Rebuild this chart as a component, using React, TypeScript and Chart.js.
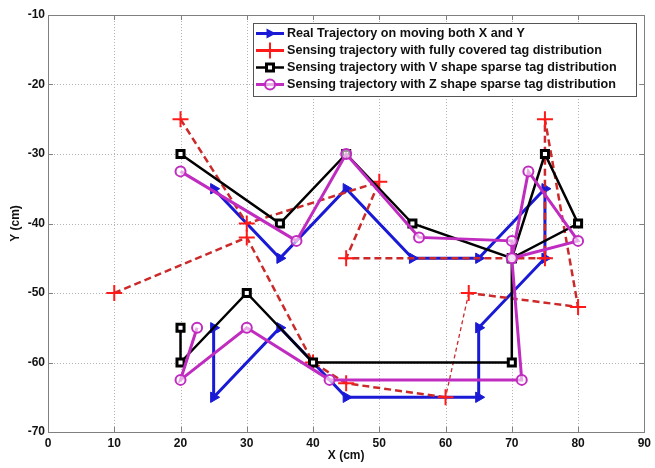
import React, { useEffect, useRef } from "react";
import { Chart, registerables } from "chart.js";

Chart.register(...registerables);

// ---------- data ----------
const seriesLabels = [
  "Real Trajectory on moving both X and Y",
  "Sensing trajectory with fully covered tag distribution",
  "Sensing trajectory with V shape sparse tag distribution",
  "Sensing trajectory with Z shape sparse tag distribution",
];

const realX = [25, 35, 45, 55, 65, 75, 75, 65, 65, 45, 35, 25, 25];
const realY = [-35, -45, -35, -45, -45, -35, -45, -55, -65, -65, -55, -65, -55];

const fullX = [20, 30, 50, 45, 75, 75, 80, 63.5, 60, 45, 40, 30, 10];
const fullY = [-25, -40, -34, -45, -45, -25, -52, -50, -65, -63, -60, -42, -50];

const vX = [20, 35, 45, 55, 70, 75, 80, 70, 70, 40, 30, 20, 20];
const vY = [-30, -40, -30, -40, -45, -30, -40, -45, -60, -60, -50, -60, -55];

const zX = [20, 37.5, 45, 56, 70, 70, 72.5, 80, 70, 71.5, 42.5, 30, 20, 22.5];
const zY = [-32.5, -42.5, -30, -42, -42.5, -45, -32.5, -42.5, -45, -62.5, -62.5, -55, -62.5, -55];

const xTicks = [0, 10, 20, 30, 40, 50, 60, 70, 80, 90];
const yTicks = [-70, -60, -50, -40, -30, -20, -10];

const xTitle = "X (cm)";
const yTitle = "Y (cm)";

// ---------- styles ----------
const BLUE = "#1a1ad6";
const RED_LINE = "#cc2a2a";
const RED_MARK = "#ff1a1a";
const BLACK = "#000000";
const MAGENTA = "#c02cc0";
const FONT = "'Liberation Sans', Arial, Helvetica, sans-serif";

function toPts(xs: number[], ys: number[]) {
  return xs.map((x, i) => ({ x, y: ys[i] }));
}

function drawMarker(ctx: CanvasRenderingContext2D, kind: number, x: number, y: number) {
  ctx.save();
  ctx.setLineDash([]);
  if (kind === 0) {
    ctx.fillStyle = BLUE;
    ctx.beginPath();
    ctx.moveTo(x + 6, y);
    ctx.lineTo(x - 3.5, y - 5);
    ctx.lineTo(x - 3.5, y + 5);
    ctx.closePath();
    ctx.fill();
  } else if (kind === 1) {
    ctx.strokeStyle = RED_MARK;
    ctx.lineWidth = 2;
    ctx.beginPath();
    ctx.moveTo(x - 8, y);
    ctx.lineTo(x + 8, y);
    ctx.moveTo(x, y - 8);
    ctx.lineTo(x, y + 8);
    ctx.stroke();
  } else if (kind === 2) {
    ctx.fillStyle = "#fff";
    ctx.strokeStyle = BLACK;
    ctx.lineWidth = 3;
    ctx.beginPath();
    ctx.rect(x - 3.5, y - 3.5, 7, 7);
    ctx.fill();
    ctx.stroke();
  } else {
    ctx.strokeStyle = MAGENTA;
    ctx.lineWidth = 2;
    ctx.fillStyle = "rgba(255,255,255,0.6)";
    ctx.beginPath();
    ctx.arc(x, y, 5, 0, Math.PI * 2);
    ctx.fill();
    ctx.stroke();
  }
  ctx.restore();
}

export default function App() {
  const ref = useRef<HTMLCanvasElement>(null);

  useEffect(() => {
    const canvas = ref.current;
    if (!canvas) return;

    const framePlugin = {
      id: "matlabFrame",
      beforeDatasetsDraw(chart: any) {
        const { ctx, chartArea: a, scales } = chart;
        ctx.save();
        ctx.strokeStyle = "#b4b4b4";
        ctx.lineWidth = 1;
        ctx.setLineDash([1, 2]);
        for (const v of xTicks) {
          const px = Math.round(scales.x.getPixelForValue(v)) + 0.5;
          if (px <= a.left + 1 || px >= a.right - 1) continue;
          ctx.beginPath();
          ctx.moveTo(px, a.top);
          ctx.lineTo(px, a.bottom);
          ctx.stroke();
        }
        for (const v of yTicks) {
          const py = Math.round(scales.y.getPixelForValue(v)) + 0.5;
          if (py <= a.top + 1 || py >= a.bottom - 1) continue;
          ctx.beginPath();
          ctx.moveTo(a.left, py);
          ctx.lineTo(a.right, py);
          ctx.stroke();
        }
        ctx.restore();
      },
      afterDatasetsDraw(chart: any) {
        const { ctx, chartArea: a, scales } = chart;
        ctx.save();
        // box
        ctx.setLineDash([]);
        ctx.strokeStyle = "#808080";
        ctx.lineWidth = 1;
        ctx.strokeRect(Math.round(a.left) + 0.5, Math.round(a.top) + 0.5, Math.round(a.right - a.left), Math.round(a.bottom - a.top));
        // inward ticks
        const tl = 5;
        ctx.beginPath();
        for (const v of xTicks) {
          const px = Math.round(scales.x.getPixelForValue(v)) + 0.5;
          ctx.moveTo(px, a.bottom);
          ctx.lineTo(px, a.bottom - tl);
          ctx.moveTo(px, a.top);
          ctx.lineTo(px, a.top + tl);
        }
        for (const v of yTicks) {
          const py = Math.round(scales.y.getPixelForValue(v)) + 0.5;
          ctx.moveTo(a.left, py);
          ctx.lineTo(a.left + tl, py);
          ctx.moveTo(a.right, py);
          ctx.lineTo(a.right - tl, py);
        }
        ctx.stroke();

        // axis titles
        ctx.fillStyle = "#111";
        ctx.font = `bold 12px ${FONT}`;
        ctx.textAlign = "center";
        ctx.textBaseline = "middle";
        ctx.fillText(xTitle, (a.left + a.right) / 2, 456);
        ctx.save();
        ctx.translate(16, (a.top + a.bottom) / 2);
        ctx.rotate(-Math.PI / 2);
        ctx.fillText(yTitle, 0, 0);
        ctx.restore();

        // legend
        const lx = 253, ly = 23, lw = 383, lh = 73;
        ctx.fillStyle = "#fff";
        ctx.fillRect(lx, ly, lw, lh);
        ctx.strokeStyle = "#555";
        ctx.strokeRect(lx + 0.5, ly + 0.5, lw, lh);
        const colors = [BLUE, RED_LINE, BLACK, MAGENTA];
        for (let i = 0; i < seriesLabels.length; i++) {
          const yy = 33.5 + 17 * i;
          ctx.strokeStyle = i === 1 ? RED_MARK : colors[i];
          ctx.lineWidth = i === 2 ? 2.5 : 3;
          ctx.setLineDash([]);
          ctx.beginPath();
          ctx.moveTo(256, yy);
          ctx.lineTo(284, yy);
          ctx.stroke();
          drawMarker(ctx, i, 270, yy);
          ctx.fillStyle = "#111";
          ctx.font = `bold 12.6px ${FONT}`;
          ctx.textAlign = "left";
          ctx.textBaseline = "middle";
          ctx.fillText(seriesLabels[i], 287, yy + 0.5);
        }
        ctx.restore();
      },
    };

    const chart = new Chart(canvas, {
      type: "scatter",
      data: {
        datasets: [
          {
            label: seriesLabels[0],
            data: toPts(realX, realY),
            showLine: true,
            borderColor: BLUE,
            backgroundColor: BLUE,
            borderWidth: 3,
            pointStyle: "triangle",
            rotation: 90,
            pointRadius: 6,
            pointBorderWidth: 1,
            pointBorderColor: BLUE,
            pointBackgroundColor: BLUE,
            order: 4,
          },
          {
            label: seriesLabels[1],
            data: toPts(fullX, fullY),
            showLine: true,
            borderColor: RED_LINE,
            backgroundColor: RED_MARK,
            borderWidth: 2.5,
            borderDash: [7, 4],
            pointStyle: "cross",
            pointRadius: 8,
            pointBorderWidth: 2,
            pointBorderColor: RED_MARK,
            segment: {
              borderWidth: (c: any) => (c.p0DataIndex === 7 ? 1.3 : undefined),
              borderDash: (c: any) => (c.p0DataIndex === 7 ? [4, 3] : undefined),
            },
            order: 3,
          },
          {
            label: seriesLabels[2],
            data: toPts(vX, vY),
            showLine: true,
            borderColor: BLACK,
            backgroundColor: "#fff",
            borderWidth: 2.5,
            pointStyle: "rect",
            pointRadius: 5,
            pointBorderWidth: 3,
            pointBorderColor: BLACK,
            pointBackgroundColor: "#fff",
            order: 2,
          },
          {
            label: seriesLabels[3],
            data: toPts(zX, zY),
            showLine: true,
            borderColor: MAGENTA,
            backgroundColor: "rgba(255,255,255,0.6)",
            borderWidth: 3,
            pointStyle: "circle",
            pointRadius: 5,
            pointBorderWidth: 2,
            pointBorderColor: MAGENTA,
            pointBackgroundColor: "rgba(255,255,255,0.6)",
            order: 1,
          },
        ],
      } as any,
      options: {
        animation: false,
        responsive: false,
        maintainAspectRatio: false,
        devicePixelRatio: 1,
        layout: { padding: { top: 15, right: 8, left: 0, bottom: 0 } },
        plugins: {
          legend: { display: false },
          tooltip: { enabled: false },
        },
        elements: { line: { tension: 0 } },
        scales: {
          x: {
            type: "linear",
            min: 0,
            max: 90,
            afterBuildTicks: (s: any) => {
              s.ticks = xTicks.map((v) => ({ value: v }));
            },
            afterFit: (s: any) => {
              s.height = 36;
            },
            grid: { display: false, drawTicks: false },
            border: { display: false },
            ticks: {
              padding: 4,
              color: "#111",
              font: { family: FONT, size: 12, weight: "bold" },
              maxRotation: 0,
              autoSkip: false,
            },
          },
          y: {
            type: "linear",
            min: -70,
            max: -10,
            afterBuildTicks: (s: any) => {
              s.ticks = yTicks.map((v) => ({ value: v }));
            },
            afterFit: (s: any) => {
              s.width = 48;
            },
            grid: { display: false, drawTicks: false },
            border: { display: false },
            ticks: {
              padding: 3,
              color: "#111",
              font: { family: FONT, size: 12, weight: "bold" },
              autoSkip: false,
            },
          },
        },
      } as any,
      plugins: [framePlugin],
    });

    return () => chart.destroy();
  }, []);

  return (
    <div style={{ position: "absolute", left: 0, top: 0, width: 655, height: 468, background: "#fff" }}>
      <canvas ref={ref} width={655} height={468} style={{ display: "block", width: 655, height: 468 }} />
    </div>
  );
}
